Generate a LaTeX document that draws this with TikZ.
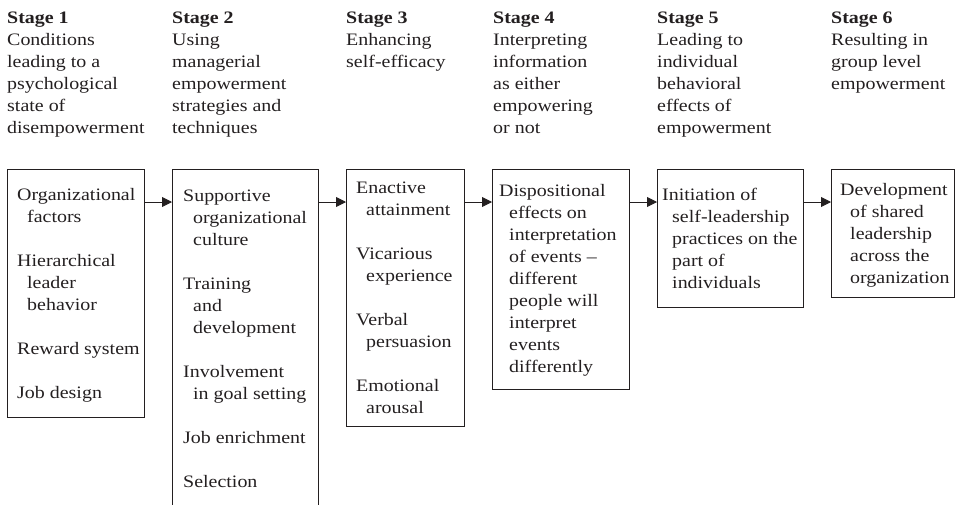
\documentclass[tikz,border=0pt]{standalone}
\usepackage{fontspec}
\setmainfont{Liberation Serif}[FakeStretch=1.14]
\usetikzlibrary{arrows.meta}
\definecolor{ink}{RGB}{35,31,32}

% a block of lines whose reference point is the baseline of its first line
\newcommand\stagetext[1]{\vtop{\hsize=220pt\parindent=0pt\parskip=0pt
  \fontsize{17.5}{22}\selectfont #1}}
% one list item: continuation lines are indented, a blank line follows
\newcommand\entry[1]{\hangindent=10pt\hangafter=1 \noindent#1\par\vskip22pt}

\tikzset{
  txt/.style={anchor=base west, inner sep=0pt, text=ink},
  frame/.style={draw=ink, line width=0.9pt, anchor=north west, inner sep=0pt},
  arr/.style={draw=ink, line width=0.9pt, -{Triangle[length=10pt,width=10pt]}}
}

\begin{document}
\begin{tikzpicture}[x=1pt, y=-1pt]
\useasboundingbox (0,0) rectangle (956,504);
\clip (0,0) rectangle (956,504);

% stage headings
\node[txt] (h1) at (7,23) {\stagetext{\noindent\textbf{Stage 1}\newline
  Conditions\newline leading to a\newline psychological\newline state of\newline disempowerment}};
\node[txt] (h2) at (172,23) {\stagetext{\noindent\textbf{Stage 2}\newline
  Using\newline managerial\newline empowerment\newline strategies and\newline techniques}};
\node[txt] (h3) at (346,23) {\stagetext{\noindent\textbf{Stage 3}\newline
  Enhancing\newline self-efficacy}};
\node[txt] (h4) at (493,23) {\stagetext{\noindent\textbf{Stage 4}\newline
  Interpreting\newline information\newline as either\newline empowering\newline or not}};
\node[txt] (h5) at (657,23) {\stagetext{\noindent\textbf{Stage 5}\newline
  Leading to\newline individual\newline behavioral\newline effects of\newline empowerment}};
\node[txt] (h6) at (831,23) {\stagetext{\noindent\textbf{Stage 6}\newline
  Resulting in\newline group level\newline empowerment}};

% stage boxes
\node[frame, minimum width=137pt, minimum height=248pt] (b1) at (7,169) {};
\node[frame, minimum width=146pt, minimum height=351pt] (b2) at (172,169) {};
\node[frame, minimum width=118pt, minimum height=257pt] (b3) at (346,169) {};
\node[frame, minimum width=137pt, minimum height=220pt] (b4) at (492,169) {};
\node[frame, minimum width=146pt, minimum height=138pt] (b5) at (657,169) {};
\node[frame, minimum width=123pt, minimum height=128pt] (b6) at (831,169) {};

% box contents
\node[txt] (t1) at (17,200) {\stagetext{%
  \entry{Organizational\newline factors}
  \entry{Hierarchical\newline leader\newline behavior}
  \entry{Reward system}
  \entry{Job design}}};
\node[txt] (t2) at (183,201.5) {\stagetext{%
  \entry{Supportive\newline organizational\newline culture}
  \entry{Training\newline and\newline development}
  \entry{Involvement\newline in goal setting}
  \entry{Job enrichment}
  \entry{Selection}}};
\node[txt] (t3) at (356,193) {\stagetext{%
  \entry{Enactive\newline attainment}
  \entry{Vicarious\newline experience}
  \entry{Verbal\newline persuasion}
  \entry{Emotional\newline arousal}}};
\node[txt] (t4) at (499,196.5) {\stagetext{%
  \entry{Dispositional\newline effects on\newline interpretation\newline of events –\newline
    different\newline people will\newline interpret\newline events\newline differently}}};
\node[txt] (t5) at (662,200) {\stagetext{%
  \entry{Initiation of\newline self-leadership\newline practices on the\newline part of\newline individuals}}};
\node[txt] (t6) at (840,195) {\stagetext{%
  \entry{Development\newline of shared\newline leadership\newline across the\newline organization}}};

% flow between stages
\draw[arr] ([yshift=-33pt]b1.north east) -- ([yshift=-33pt]b2.north west);
\draw[arr] ([yshift=-33pt]b2.north east) -- ([yshift=-33pt]b3.north west);
\draw[arr] ([yshift=-33pt]b3.north east) -- ([yshift=-33pt]b4.north west);
\draw[arr] ([yshift=-33pt]b4.north east) -- ([yshift=-33pt]b5.north west);
\draw[arr] ([yshift=-33pt]b5.north east) -- ([yshift=-33pt]b6.north west);
\end{tikzpicture}
\end{document}
